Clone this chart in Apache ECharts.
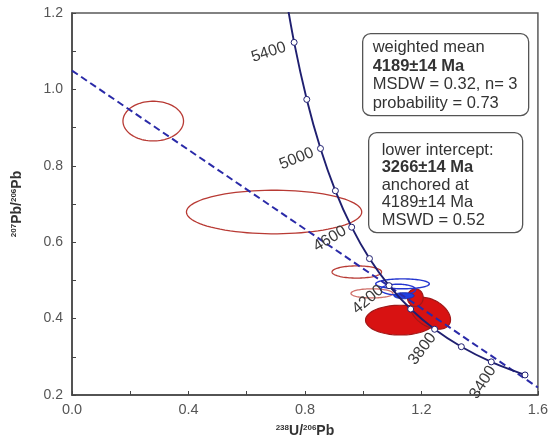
<!DOCTYPE html>
<html>
<head>
<meta charset="utf-8">
<script src="https://cdn.jsdelivr.net/npm/echarts@6/dist/echarts.min.js"></script>
<style>
  html, body { margin: 0; padding: 0; background: #fff; }
  #chart { width: 551px; height: 443px; }
</style>
</head>
<body>
<div id="chart"></div>
<script>
// Concordia reference points (Ma) and their Tera-Wasserburg coordinates
const concordiaAges = [3200, 3400, 3600, 3800, 4000, 4200, 4400, 4600, 4800, 5000, 5200, 5400, 5600];
const concordiaX = [1.5557, 1.4398, 1.3370, 1.2453, 1.1630, 1.0888, 1.0215, 0.9604, 0.9045, 0.8533, 0.8062, 0.7628, 0.7226];
const concordiaY = [0.2524, 0.2867, 0.3264, 0.3721, 0.4250, 0.4862, 0.5571, 0.6393, 0.7346, 0.8453, 0.9738, 1.1231, 1.2968];
const labelledAges = [3400, 3800, 4200, 4600, 5000, 5400];
const labelAngles = [57, 53, 40, 31, 22, 18];

// Anchored discordia through 4189 Ma and the lower intercept
const discordiaX = [0, 1.6];
const discordiaY = [1.0492, 0.2196];

// Analysis error ellipses: centre, semi-axes (axis units), tilt (deg), style
const ellipseCX   = [0.279, 0.694, 0.978, 1.030, 1.128, 1.231, 1.179, 1.135, 1.120, 1.140];
const ellipseCY   = [0.917, 0.679, 0.522, 0.466, 0.396, 0.414, 0.455, 0.491, 0.476, 0.460];
const ellipseRX   = [0.104, 0.301, 0.085, 0.072, 0.120, 0.075, 0.027, 0.092, 0.060, 0.035];
const ellipseRY   = [0.052, 0.057, 0.016, 0.012, 0.039, 0.035, 0.023, 0.013, 0.014, 0.008];
const ellipseTilt = [0, 0, 0, 0, 0, 30, 0, 0, 0, 0];
const ellipseKind = ['open', 'open', 'open', 'pink', 'fill', 'fill', 'fill', 'blue', 'blue', 'blueFill'];

const xMin = 0, xMax = 1.6, xStep = 0.2;
const yMin = 0.2, yMax = 1.2, yStep = 0.1;

const FONT = '"Liberation Sans", Arial, sans-serif';

// where each age label's end sits relative to its marker (px)
const labelShift = { 3400: [2, 6], 3800: [-1, 6], 4200: [-7, 3], 4600: [-6, 3], 5000: [-7, 4], 5400: [-8, 5] };

const ellipseStyles = {
  open:     { fill: 'none', stroke: '#b83a34', lineWidth: 1.3 },
  pink:     { fill: 'none', stroke: '#d0706a', lineWidth: 1.3 },
  fill:     { fill: '#d81212', stroke: '#a01818', lineWidth: 1.2 },
  blue:     { fill: 'none', stroke: '#2436d0', lineWidth: 1.4 },
  blueFill: { fill: '#1f3fe0', stroke: '#1a2fb0', lineWidth: 1 }
};

const ellipseData = ellipseCX.map((x, i) => [x, ellipseCY[i], ellipseRX[i], ellipseRY[i], ellipseTilt[i]]);

const concordiaData = concordiaX.map((x, i) => {
  const age = concordiaAges[i];
  const li = labelledAges.indexOf(age);
  const item = { value: [x, concordiaY[i]] };
  if (li >= 0) {
    const s = labelShift[age];
    item.label = {
      show: true,
      position: [3 + s[0], 3 + s[1]],
      align: 'right',
      verticalAlign: 'middle',
      rotate: labelAngles[li],
      formatter: String(age),
      color: '#3a3a3a',
      fontSize: 16,
      fontFamily: FONT
    };
  }
  return item;
});

const chart = echarts.init(document.getElementById('chart'), null, { renderer: 'canvas' });

const boxText = {
  fontFamily: FONT,
  fontSize: 16.5,
  fill: '#333'
};

chart.setOption({
  backgroundColor: '#fff',
  animation: false,
  grid: {
    left: 72, right: 11, top: 13, bottom: 42,
    show: true, borderColor: '#5a5a5a', borderWidth: 1.5, backgroundColor: 'transparent'
  },
  xAxis: {
    type: 'value', min: xMin, max: xMax, interval: xStep,
    splitLine: { show: false },
    axisLine: { show: true, lineStyle: { color: '#444', width: 1.5 } },
    axisTick: { show: true, inside: true, length: 4, lineStyle: { color: '#444' } },
    axisLabel: {
      margin: 7, color: '#555', fontSize: 14.5, fontFamily: FONT,
      formatter: v => (Math.round(v * 10) % 4 === 0 ? v.toFixed(1) : '')
    },
    name: '{s|238}{b|U/}{s|206}{b|Pb}',
    nameLocation: 'middle', nameGap: 29,
    nameTextStyle: {
      rich: {
        s: { fontSize: 8, fontWeight: 'bold', color: '#333', fontFamily: FONT, verticalAlign: 'top', padding: [0, 0, 6, 0] },
        b: { fontSize: 14, fontWeight: 'bold', color: '#333', fontFamily: FONT }
      }
    }
  },
  yAxis: {
    type: 'value', min: yMin, max: yMax, interval: yStep,
    splitLine: { show: false },
    axisLine: { show: true, lineStyle: { color: '#444', width: 1.5 } },
    axisTick: { show: true, inside: true, length: 4, lineStyle: { color: '#444' } },
    axisLabel: {
      margin: 9, color: '#555', fontSize: 14, fontFamily: FONT,
      formatter: v => (Math.round(v * 10) % 2 === 0 ? v.toFixed(1) : '')
    },
    name: '{s|207}{b|Pb/}{s|206}{b|Pb}',
    nameLocation: 'middle', nameGap: 48, nameRotate: 90,
    nameTextStyle: {
      rich: {
        s: { fontSize: 8, fontWeight: 'bold', color: '#333', fontFamily: FONT, verticalAlign: 'top', padding: [0, 0, 6, 0] },
        b: { fontSize: 14, fontWeight: 'bold', color: '#333', fontFamily: FONT }
      }
    }
  },
  series: [
    {
      type: 'custom',
      name: 'ellipses',
      clip: true,
      encode: { x: 0, y: 1 },
      data: ellipseData,
      z: 2,
      renderItem: (params, api) => {
        const c = api.coord([api.value(0), api.value(1)]);
        const sz = api.size([api.value(2), api.value(3)]);
        const a = api.value(4) * Math.PI / 180;
        const pts = [];
        for (let k = 0; k < 90; k++) {
          const t = k / 90 * Math.PI * 2;
          const ex = sz[0] * Math.cos(t), ey = sz[1] * Math.sin(t);
          pts.push([c[0] + ex * Math.cos(a) - ey * Math.sin(a), c[1] + ex * Math.sin(a) + ey * Math.cos(a)]);
        }
        return { type: 'polygon', shape: { points: pts }, style: ellipseStyles[ellipseKind[params.dataIndex]] };
      }
    },
    {
      type: 'line',
      name: 'discordia',
      data: discordiaX.map((x, i) => [x, discordiaY[i]]),
      showSymbol: false, symbol: 'none',
      lineStyle: { color: '#2a2aa8', width: 2, type: [7, 4] },
      z: 3
    },
    {
      type: 'line',
      name: 'concordia',
      data: concordiaData,
      smooth: 0.3,
      clip: true,
      symbol: 'circle', symbolSize: 6, showSymbol: true,
      itemStyle: { color: '#fff', borderColor: '#1f1f70', borderWidth: 1 },
      lineStyle: { color: '#1f1f70', width: 1.9 },
      z: 4
    }
  ],
  graphic: [
    {
      type: 'group', left: 362, top: 33, z: 10,
      children: [
        { type: 'rect', shape: { x: 0, y: 0, width: 166, height: 82, r: 8 }, style: { fill: '#fff', stroke: '#555', lineWidth: 1.3 } },
        {
          type: 'text', left: 10, top: 5,
          style: Object.assign({}, boxText, {
            lineHeight: 18.5,
            text: 'weighted mean\n{b|4189±14 Ma}\nMSDW = 0.32, n= 3\nprobability = 0.73',
            rich: { b: { fontWeight: 'bold', fontSize: 16.5, lineHeight: 18.5, fontFamily: FONT, fill: '#333' } }
          })
        }
      ]
    },
    {
      type: 'group', left: 368, top: 132, z: 10,
      children: [
        { type: 'rect', shape: { x: 0, y: 0, width: 154, height: 100, r: 8 }, style: { fill: '#fff', stroke: '#555', lineWidth: 1.3 } },
        {
          type: 'text', left: 13, top: 9,
          style: Object.assign({}, boxText, {
            lineHeight: 17.5,
            text: 'lower intercept:\n{b|3266±14 Ma}\nanchored at\n4189±14 Ma\nMSWD = 0.52',
            rich: { b: { fontWeight: 'bold', fontSize: 16.5, lineHeight: 17.5, fontFamily: FONT, fill: '#333' } }
          })
        }
      ]
    }
  ]
});
</script>
</body>
</html>
